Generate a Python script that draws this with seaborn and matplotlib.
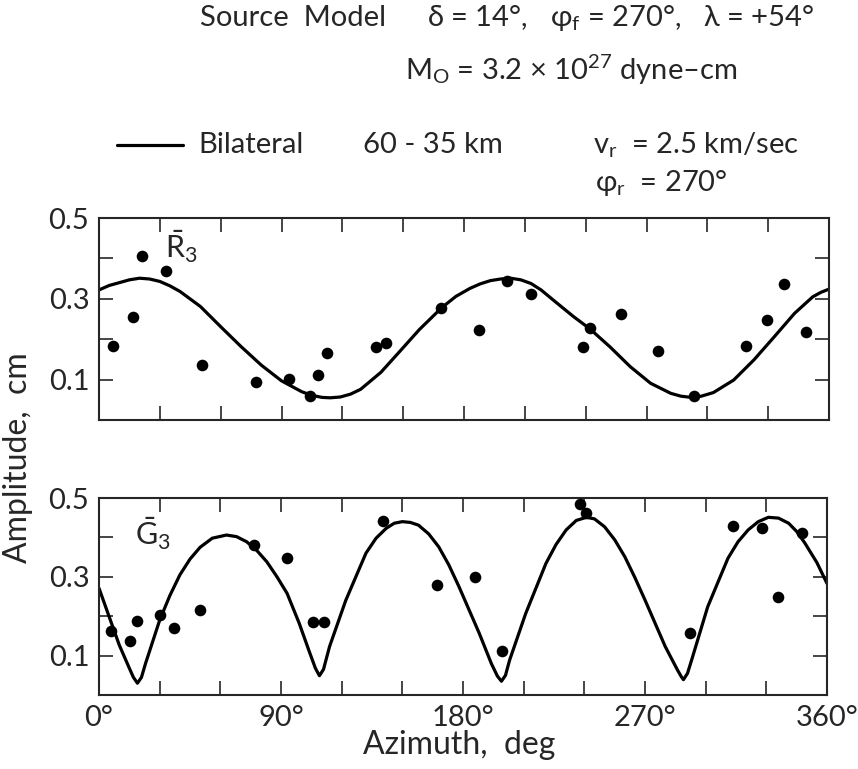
import matplotlib
matplotlib.use("Agg")
import matplotlib.pyplot as plt
import seaborn as sns

r3_az = [6.7, 16.6, 21, 33, 51, 77.4, 93.9, 104, 107.8, 112.3, 136.6, 141.5, 168.8, 187.5,
         201, 213.2, 238.8, 242.1, 257.3, 275.5, 293.2, 318.9, 329.2, 337.9, 348.6]
r3_amp = [0.183, 0.256, 0.406, 0.368, 0.137, 0.093, 0.101, 0.060, 0.112, 0.167, 0.181, 0.19,
          0.278, 0.222, 0.343, 0.311, 0.181, 0.228, 0.262, 0.172, 0.059, 0.182, 0.248, 0.336, 0.219]
r3_curve_az = [0, 5, 10, 15, 20, 25, 30, 35, 40, 50, 60, 70, 80, 90, 100, 105, 110, 114, 119,
               124, 129, 139, 148, 158, 169, 176, 183, 188, 193, 198, 203, 208, 213, 218, 224,
               234, 242, 252, 262, 272, 282, 287, 292, 297, 303, 313, 323, 333, 343, 352, 356,
               360]
r3_curve_amp = [0.322, 0.333, 0.340, 0.347, 0.351, 0.349, 0.343, 0.332, 0.318, 0.281, 0.231,
                0.182, 0.136, 0.097, 0.070, 0.061, 0.056, 0.055, 0.057, 0.064, 0.076, 0.118,
                0.168, 0.224, 0.278, 0.306, 0.326, 0.337, 0.345, 0.349, 0.351, 0.347, 0.338,
                0.322, 0.297, 0.256, 0.226, 0.181, 0.132, 0.091, 0.066, 0.059, 0.056, 0.059,
                0.068, 0.099, 0.149, 0.206, 0.264, 0.305, 0.316, 0.324]

g3_az = [5.9, 15.3, 18.6, 30.4, 37, 49.8, 76.6, 92.9, 105.7, 111.5, 140.6, 167.3, 186, 199.4,
         237.6, 241, 292.3, 313.7, 327.6, 335.9, 347.4]
g3_amp = [0.162, 0.138, 0.187, 0.202, 0.170, 0.215, 0.381, 0.347, 0.185, 0.185, 0.442, 0.278,
          0.300, 0.112, 0.485, 0.461, 0.157, 0.430, 0.424, 0.249, 0.412]
g3_curve_az = [0, 5, 10, 15, 17, 19, 21, 23, 30, 35, 40, 45, 50, 56, 63, 68, 73, 78, 83, 88,
               93, 99, 104, 107, 109, 111, 114, 122, 132, 137, 142, 146, 150, 154, 158, 163,
               168, 173, 178, 188, 194, 197, 199, 201, 203, 211, 221, 226, 231, 236, 241, 245,
               250, 255, 260, 265, 270, 275, 280, 286, 288, 289, 291, 293, 301, 311, 316, 321,
               326, 331, 336, 341, 345, 349, 355, 360]
g3_curve_amp = [0.271, 0.199, 0.127, 0.068, 0.045, 0.030, 0.045, 0.08, 0.19, 0.252, 0.305,
                0.345, 0.375, 0.398, 0.406, 0.402, 0.389, 0.367, 0.338, 0.300, 0.258, 0.182,
                0.11, 0.068, 0.049, 0.065, 0.123, 0.24, 0.36, 0.398, 0.423, 0.436, 0.44, 0.438,
                0.431, 0.409, 0.376, 0.330, 0.275, 0.157, 0.08, 0.048, 0.035, 0.05, 0.088,
                0.207, 0.334, 0.382, 0.419, 0.443, 0.451, 0.447, 0.427, 0.394, 0.351, 0.298,
                0.241, 0.182, 0.123, 0.064, 0.046, 0.039, 0.055, 0.088, 0.224, 0.347, 0.389,
                0.419, 0.440, 0.451, 0.449, 0.436, 0.415, 0.386, 0.336, 0.283]

x_ticklabels = ["0°", "", "", "90°", "", "", "180°", "", "", "270°", "", "", "360°"]
y_ticklabels = ["0.1", "", "0.3", "", "0.5"]

sns.set_style("ticks")
plt.rcParams["font.family"] = ["Lato", "DejaVu Sans"]
plt.rcParams["mathtext.fontset"] = "custom"
plt.rcParams["mathtext.rm"] = "Lato"
plt.rcParams["mathtext.it"] = "Lato"
plt.rcParams["mathtext.default"] = "rm"
FS = 21

fig = plt.figure(figsize=(8.58, 7.69), dpi=100)
ax1 = fig.add_axes([0.1154, 0.4538, 0.8508, 0.2627])
ax2 = fig.add_axes([0.1154, 0.0962, 0.8485, 0.2562])

panels = [
    (ax1, r3_az, r3_amp, r3_curve_az, r3_curve_amp, r"$\bar{R}_3$", (0.09, 0.80)),
    (ax2, g3_az, g3_amp, g3_curve_az, g3_curve_amp, r"$\bar{G}_3$", (0.05, 0.76)),
]
for ax, az, amp, caz, camp, lab, lpos in panels:
    sns.lineplot(x=caz, y=camp, ax=ax, color="black", linewidth=2.3, sort=False)
    sns.scatterplot(x=az, y=amp, ax=ax, color="black", s=70, edgecolor="black",
                    linewidth=0, zorder=3, clip_on=False)
    ax.set_xlim(0, 360)
    ax.set_ylim(0, 0.5)
    ax.set_xticks(range(0, 361, 30))
    ax.set_yticks([0.1, 0.2, 0.3, 0.4, 0.5])
    ax.set_yticklabels(y_ticklabels)
    ax.tick_params(direction="in", length=10, width=1.2, top=True, right=True,
                   labelsize=FS, pad=7)
    for sp in ax.spines.values():
        sp.set_linewidth(1.5)
    ax.text(lpos[0], lpos[1], lab, transform=ax.transAxes, fontsize=FS + 1)
    ax.set_xlabel("")
    ax.set_ylabel("")

ax1.set_xticklabels([])
ax2.set_xticklabels(x_ticklabels)

fig.text(0.021, 0.405, "Amplitude,  cm", rotation=90, ha="center", va="center", fontsize=FS + 2)
fig.text(0.535, 0.031, "Azimuth,  deg", ha="center", va="center", fontsize=FS + 2)

y1 = 0.9766
fig.text(0.2331, y1, "Source  Model", ha="left", va="center", fontsize=FS)
fig.text(0.4977, y1, r"$\delta$ = 14°,", ha="left", va="center", fontsize=FS)
fig.text(0.641, y1, r"$\varphi_f$ = 270°,", ha="left", va="center", fontsize=FS)
fig.text(0.8193, y1, r"$\lambda$ = +54°", ha="left", va="center", fontsize=FS)
fig.text(0.472, 0.909, r"M$_O$ = 3.2 × 10$^{27}$ dyne–cm", ha="left", va="center", fontsize=FS)

y3 = 0.8114
fig.add_artist(plt.Line2D([0.1364, 0.2133], [y3, y3], color="black", linewidth=2.3))
fig.text(0.2308, y3, "Bilateral", ha="left", va="center", fontsize=FS)
fig.text(0.4231, y3, "60 - 35 km", ha="left", va="center", fontsize=FS)
fig.text(0.691, y3, r"v$_r$  = 2.5 km/sec", ha="left", va="center", fontsize=FS)
fig.text(0.6935, 0.762, r"$\varphi_r$  = 270°", ha="left", va="center", fontsize=FS)

plt.savefig("out.png", dpi=100)
